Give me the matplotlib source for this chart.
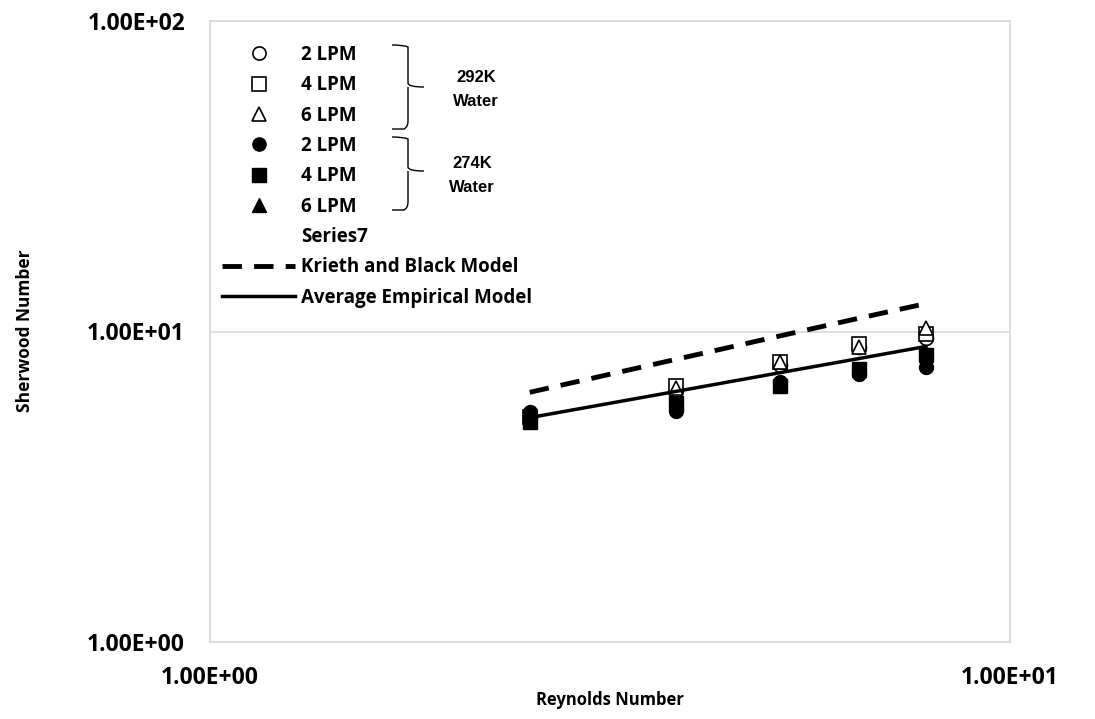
import matplotlib
matplotlib.use("Agg")
import matplotlib.pyplot as plt
from matplotlib.lines import Line2D
from matplotlib.path import Path
from matplotlib.patches import PathPatch
from matplotlib.ticker import FuncFormatter

plt.rcParams['font.family'] = ['Open Sans', 'DejaVu Sans']
plt.rcParams['font.weight'] = 'bold'

# data
reynolds = [2.51, 3.82, 5.16, 6.47, 7.85]
sh_292_2lpm = [5.3, 6.5, 7.8, 8.9, 9.5]
sh_292_4lpm = [5.3, 6.7, 8.0, 9.1, 9.8]
sh_292_6lpm = [5.3, 6.6, 8.0, 8.9, 10.3]
sh_274_2lpm = [5.5, 5.55, 6.9, 7.3, 7.7]
sh_274_4lpm = [5.1, 5.9, 6.7, 7.6, 8.4]
sh_274_6lpm = [5.2, 5.8, 6.8, 7.5, 8.0]
krieth_black = [6.37, 8.13, 9.68, 11.03, 12.3]
avg_empirical = [5.28, 6.41, 7.37, 8.18, 8.95]

W, H = 1095, 719
fig = plt.figure(figsize=(W / 100, H / 100), dpi=100)
ax = fig.add_axes([210 / W, 1 - 642 / H, 800 / W, 621 / H])

ms = 10
ax.plot(reynolds, sh_292_2lpm, 'o', ms=ms, mfc='white', mec='black', mew=1.2, label='2 LPM')
ax.plot(reynolds, sh_292_4lpm, 's', ms=ms, mfc='white', mec='black', mew=1.2, label='4 LPM')
ax.plot(reynolds, sh_292_6lpm, '^', ms=ms, mfc='white', mec='black', mew=1.2, label='6 LPM')
ax.plot(reynolds, sh_274_2lpm, 'o', ms=ms, color='black', label='2 LPM')
ax.plot(reynolds, sh_274_4lpm, 's', ms=ms, color='black', label='4 LPM')
ax.plot(reynolds, sh_274_6lpm, '^', ms=ms, color='black', label='6 LPM')
ax.plot(reynolds, krieth_black, color='black', lw=3.5, ls=(0, (4, 2.5)), label='Krieth and Black Model')
ax.plot(reynolds, avg_empirical, color='black', lw=2.5, label='Average Empirical Model')

ax.set_xscale('log')
ax.set_yscale('log')
ax.set_xlim(1, 10)
ax.set_ylim(1, 100)
ax.set_xticks([1, 10])
ax.set_yticks([1, 10, 100])
ax.minorticks_off()
fmt = FuncFormatter(lambda v, p: f"{v:.2E}")
ax.xaxis.set_major_formatter(fmt)
ax.yaxis.set_major_formatter(fmt)
ax.tick_params(length=0, labelsize=16.5)
ax.tick_params(axis='y', pad=18)
ax.tick_params(axis='x', pad=17)
ax.grid(True, color='#d9d9d9', lw=1.2)
for s in ax.spines.values():
    s.set_color('#d9d9d9')
    s.set_linewidth(1.2)

fig.text(610 / W, 1 - 700 / H, 'Reynolds Number', ha='center', va='center', fontsize=12)
fig.text(25 / W, 1 - 331 / H, 'Sherwood Number', ha='center', va='center',
         rotation=90, fontsize=12.5)

# legend, with an empty Series7 entry
h, l = ax.get_legend_handles_labels()
blank = Line2D([], [], ls='none')
handles = h[:6] + [blank] + h[6:]
labels = l[:6] + ['Series7'] + l[6:]
leg = ax.legend(handles, labels, loc='upper left', bbox_to_anchor=(222 / W, 1 - 45 / H),
                bbox_transform=fig.transFigure, frameon=False, fontsize=13.5,
                handlelength=3.9, handletextpad=0.3, labelspacing=0.55,
                borderpad=0, borderaxespad=0, markerscale=0.95)


def brace(y0, y1, ytip, xl=392, xv=408, xt=424):
    pts = [(xl, y0), (xv - 4, y0), (xv, y0 + 2), (xv, y0 + 8),
           (xv, ytip - 4), (xv, ytip), (xt, ytip), (xv, ytip),
           (xv, ytip + 4), (xv, y1 - 8), (xv, y1 - 2), (xv - 4, y1), (xl, y1)]
    codes = [Path.MOVETO, Path.CURVE3, Path.CURVE3, Path.LINETO,
             Path.LINETO, Path.CURVE3, Path.CURVE3, Path.MOVETO,
             Path.LINETO, Path.LINETO, Path.CURVE3, Path.CURVE3, Path.LINETO]
    pts = [(x / W, 1 - y / H) for x, y in pts]
    fig.patches.append(PathPatch(Path(pts, codes), fill=False, lw=1.0,
                                 ec='black', transform=fig.transFigure))


brace(45, 129, 87)
brace(137, 210, 171)
for txt, x, y in [('292K', 476, 78), ('Water', 476, 102), ('274K', 472, 164), ('Water', 472, 188)]:
    fig.text(x / W, 1 - y / H, txt, ha='center', va='center', fontsize=12,
             family=['Liberation Sans', 'DejaVu Sans'])

fig.savefig('out.png', dpi=100)
